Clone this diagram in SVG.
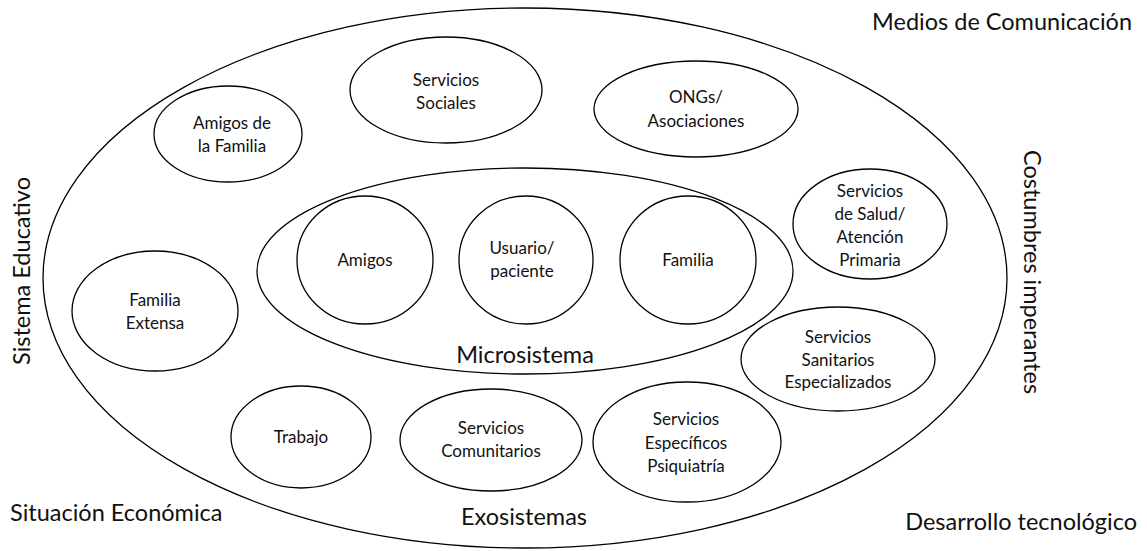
<svg xmlns="http://www.w3.org/2000/svg" width="1147" height="551" viewBox="0 0 1147 551">
<style>
.e{fill:#fff;stroke:#000;stroke-width:1.3}
.t{font-family:Lato,"Open Sans",sans-serif;font-size:17px;fill:#111;text-anchor:middle}
.b{font-family:Lato,"Open Sans",sans-serif;font-size:23.5px;fill:#111}
</style>
<rect width="1147" height="551" fill="#fff"/>
<g id="outer"><ellipse class="e" cx="525" cy="278" rx="482" ry="270"/></g>
<g id="context">
<text class="b" x="1132" y="30" text-anchor="end">Medios de Comunicación</text>
<text class="b" transform="translate(30,271) rotate(-90)" text-anchor="middle">Sistema Educativo</text>
<text class="b" transform="translate(1024,272) rotate(90)" text-anchor="middle">Costumbres imperantes</text>
<text class="b" x="10" y="521">Situación Económica</text>
<text class="b" x="1137" y="530" text-anchor="end">Desarrollo tecnológico</text>
<text class="b" x="524" y="525" text-anchor="middle">Exosistemas</text>
</g>
<g id="micro"><ellipse class="e" cx="525" cy="271" rx="268" ry="103"/><text class="b" x="525" y="363" text-anchor="middle">Microsistema</text></g>
<g id="servicios-sociales"><ellipse class="e" cx="446" cy="90" rx="96" ry="53"/><text class="t" x="446" y="86">Servicios</text><text class="t" x="446" y="109">Sociales</text></g>
<g id="ongs"><ellipse class="e" cx="696" cy="109" rx="102" ry="48"/><text class="t" x="696" y="103">ONGs/</text><text class="t" x="696" y="127">Asociaciones</text></g>
<g id="amigos-familia"><ellipse class="e" cx="228" cy="134" rx="74" ry="48"/><text class="t" x="232" y="129">Amigos de</text><text class="t" x="232" y="152">la Familia</text></g>
<g id="salud"><ellipse class="e" cx="870" cy="224" rx="77" ry="55"/><text class="t" x="870" y="197">Servicios</text><text class="t" x="870" y="220">de Salud/</text><text class="t" x="870" y="243">Atención</text><text class="t" x="870" y="266">Primaria</text></g>
<g id="amigos"><ellipse class="e" cx="365" cy="260" rx="68" ry="64"/><text class="t" x="365" y="266">Amigos</text></g>
<g id="usuario"><ellipse class="e" cx="526" cy="260" rx="67" ry="64"/><text class="t" x="522" y="254">Usuario/</text><text class="t" x="522" y="277">paciente</text></g>
<g id="familia"><ellipse class="e" cx="688" cy="260" rx="68" ry="64"/><text class="t" x="688" y="266">Familia</text></g>
<g id="familia-extensa"><ellipse class="e" cx="155" cy="311" rx="83" ry="60"/><text class="t" x="155" y="306">Familia</text><text class="t" x="155" y="329">Extensa</text></g>
<g id="sanitarios"><ellipse class="e" cx="838" cy="359" rx="97" ry="52"/><text class="t" x="838" y="343">Servicios</text><text class="t" x="838" y="366">Sanitarios</text><text class="t" x="838" y="388">Especializados</text></g>
<g id="trabajo"><ellipse class="e" cx="301" cy="437" rx="70" ry="51"/><text class="t" x="301" y="443">Trabajo</text></g>
<g id="comunitarios"><ellipse class="e" cx="491" cy="440" rx="91" ry="51"/><text class="t" x="491" y="434">Servicios</text><text class="t" x="491" y="457">Comunitarios</text></g>
<g id="psiquiatria"><ellipse class="e" cx="687" cy="442" rx="94" ry="60"/><text class="t" x="686" y="425">Servicios</text><text class="t" x="686" y="449">Específicos</text><text class="t" x="686" y="472">Psiquiatría</text></g>
<g id="connectors"/>
</svg>
